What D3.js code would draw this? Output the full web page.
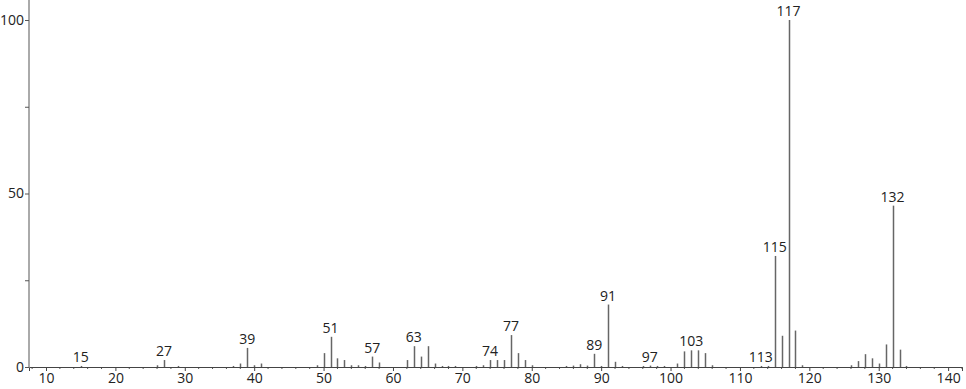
<!DOCTYPE html>
<html>
<head>
<meta charset="utf-8">
<script src="https://cdn.jsdelivr.net/npm/d3@7"></script>
<style>
  body { margin: 0; background: #fff; }
  text { font-family: "Open Sans", "DejaVu Sans", sans-serif; fill: #222; }
</style>
</head>
<body>
<div id="chart"></div>
<script>
"use strict";

// m/z values and relative intensities
var mz = [15, 26, 27, 29, 37, 38, 39, 40, 41, 49, 50, 51, 52, 53, 54, 55, 56, 57, 58,
          62, 63, 64, 65, 66, 67, 68, 69, 72, 73, 74, 75, 76, 77, 78, 79, 80,
          85, 86, 87, 88, 89, 90, 91, 92, 93, 96, 97, 98, 99, 101, 102, 103, 104, 105, 106,
          113, 114, 115, 116, 117, 118, 119, 126, 127, 128, 129, 130, 131, 132, 133, 134];
var intensity = [0.3, 0.5, 2, 0.3, 0.3, 1, 5.5, 0.5, 1, 0.5, 4, 8.7, 2.5, 2, 0.5, 0.5, 0.3, 3, 1.3,
                 2, 6, 3, 6, 1, 0.3, 0.3, 0.3, 0.3, 0.5, 2, 2, 2, 9.2, 4, 2, 0.5,
                 0.3, 0.4, 0.8, 0.4, 3.8, 0.3, 18, 1.5, 0.3, 0.3, 0.4, 0.3, 0.3, 1, 4.5, 4.8, 4.8, 4, 0.5,
                 0.3, 0.3, 32, 9, 100, 10.5, 0.5, 0.5, 1.7, 3.7, 2.5, 1, 6.5, 46.5, 5, 0.3];
var labelled = [15, 27, 39, 51, 57, 63, 74, 77, 89, 91, 97, 103, 113, 115, 117, 132];
var xTicks = [10, 20, 30, 40, 50, 60, 70, 80, 90, 100, 110, 120, 130, 140];
var yTicks = [0, 25, 50, 75, 100];
var yLabels = [0, 50, 100];

function renderMyChart() {
    var svg = d3.select("#chart").append("svg")
        .attr("width", 966)
        .attr("height", 389),
        margin = { top: 20, right: 4, bottom: 22, left: 29 },
        width = +svg.attr("width") - margin.left - margin.right,
        height = +svg.attr("height") - margin.top - margin.bottom;

    var x = d3.scaleLinear().domain([7.55, 142.0]).range([0, width]),
        y = d3.scaleLinear().domain([0, 100]).range([height, 0]);

    var g = svg.append("g")
        .attr("transform", "translate(" + margin.left + "," + margin.top + ")");

    var peaks = mz.map(function (m, i) { return { mz: m, v: intensity[i] }; });

    // minor ticks every 2
    var minor = d3.range(8, 143, 2).filter(function (t) { return t % 10 !== 0; });
    g.selectAll(".minor")
        .data(minor)
        .enter().append("line")
        .attr("x1", function (d) { return x(d); })
        .attr("x2", function (d) { return x(d); })
        .attr("y1", height)
        .attr("y2", height + 2)
        .attr("stroke", "#555");

    g.append("g")
        .attr("transform", "translate(0," + height + ")")
        .call(d3.axisBottom(x).tickValues(xTicks).tickSize(4).tickPadding(2))
        .call(function (a) {
            a.select(".domain").attr("stroke", "#444");
            a.selectAll(".tick line").attr("stroke", "#444");
            a.selectAll("text").style("font-size", "14px").attr("fill", "#222");
        });

    g.append("g")
        .call(d3.axisLeft(y).tickValues(yTicks).tickSize(4).tickPadding(1)
            .tickFormat(function (d) { return yLabels.indexOf(d) >= 0 ? d : ""; }))
        .call(function (a) {
            a.select(".domain").attr("stroke", "#aaa").attr("stroke-width", 2)
                .attr("d", "M0," + height + "V" + (-margin.top));
            a.selectAll(".tick line").attr("stroke", "#555");
            a.selectAll("text").style("font-size", "14px").attr("fill", "#222");
        });

    g.selectAll(".peak")
        .data(peaks)
        .enter().append("line")
        .attr("class", "peak")
        .attr("x1", function (d) { return Math.round(x(d.mz)) + 0.5; })
        .attr("x2", function (d) { return Math.round(x(d.mz)) + 0.5; })
        .attr("y1", height)
        .attr("y2", function (d) { return y(d.v); })
        .attr("stroke", "#666")
        .attr("stroke-width", 1.5);

    g.selectAll(".plabel")
        .data(peaks.filter(function (d) { return labelled.indexOf(d.mz) >= 0; }))
        .enter().append("text")
        .attr("class", "plabel")
        .attr("x", function (d) { return x(d.mz); })
        .attr("y", function (d) { return y(d.v) - 4; })
        .attr("text-anchor", "middle")
        .style("font-size", "14px")
        .text(function (d) { return d.mz; });
}

renderMyChart();
</script>
</body>
</html>
